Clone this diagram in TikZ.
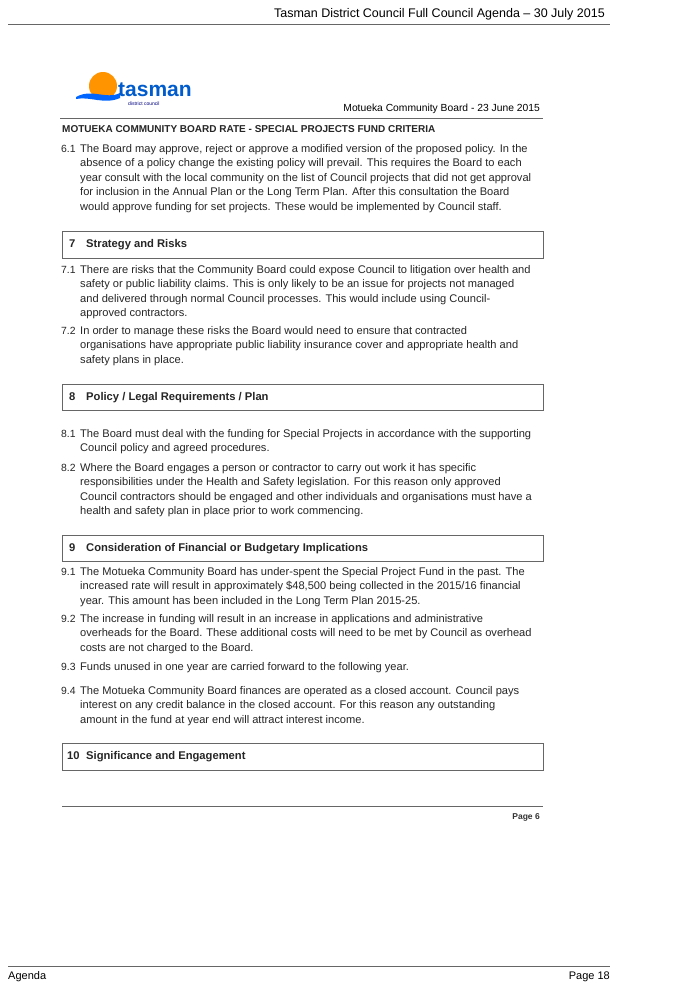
\documentclass[tikz,border=0pt]{standalone}
\usepackage{fontspec}
\setmainfont{Liberation Sans}
\begin{document}
\begin{tikzpicture}[x=1pt,y=-1pt,
  body/.style={anchor=base west,inner sep=0,font=\fontsize{11.1}{13}\selectfont,text=black!85},
  num/.style={anchor=base west,inner sep=0,font=\fontsize{10.4}{13}\selectfont,text=black!85},
  head/.style={anchor=base west,inner sep=0,font=\bfseries\fontsize{11.2}{13}\selectfont,text=black!85},
  box/.style={draw=black!60,line width=0.6pt},
  rule/.style={draw=black!60,line width=0.5pt}]
\useasboundingbox (0,0) rectangle (688,1004);
\fill[white] (0,0) rectangle (688,1004);
\node[anchor=base east,inner sep=0,font=\fontsize{12.5}{14}\selectfont] (hdr) at (605,17) {Tasman District Council Full Council Agenda -- 30 July 2015};
\draw[rule] (8,24) -- (610,24);
% logo
\fill[orange!85!yellow] (103,86) circle (14);
\fill[blue!60!cyan] (76,97) .. controls (92,88) and (106,100) .. (120,93) -- (120,98) .. controls (104,105) and (90,96) .. (76,99) -- cycle;
\node[anchor=base west,inner sep=0,font=\bfseries\fontsize{21}{24}\selectfont,text=blue!55!cyan!80!black] (logo) at (118,96) {tasman};
\node[anchor=base west,inner sep=0,font=\fontsize{5}{6}\selectfont,text=blue!50!black] (logo2) at (128,105) {district council};
\node[anchor=base east,inner sep=0,font=\fontsize{10.3}{12}\selectfont] (mcb) at (540,111) {Motueka Community Board - 23 June 2015};
\draw[rule] (60,118) -- (543,118);
\node[head,font=\bfseries\fontsize{10}{12}\selectfont] (title) at (62,132) {MOTUEKA COMMUNITY BOARD RATE - SPECIAL PROJECTS FUND CRITERIA};
% 6.1
\node[num] (n61) at (61,152) {6.1};
\node[body] (t61a) at (80,152) {The Board may approve, reject or approve a modified version of the proposed policy. In the};
\node[body] (t61b) at (80,166.5) {absence of a policy change the existing policy will prevail. This requires the Board to each};
\node[body] (t61c) at (80,181) {year consult with the local community on the list of Council projects that did not get approval};
\node[body] (t61d) at (80,195.5) {for inclusion in the Annual Plan or the Long Term Plan. After this consultation the Board};
\node[body] (t61e) at (80,210) {would approve funding for set projects. These would be implemented by Council staff.};
% 7
\draw[box] (62,231) rectangle (543,258);
\node[head] (h7n) at (69,247) {7};
\node[head] (h7) at (86,247) {Strategy and Risks};
\node[num] (n71) at (61,273) {7.1};
\node[body] (t71a) at (80,273) {There are risks that the Community Board could expose Council to litigation over health and};
\node[body] (t71b) at (80,287.5) {safety or public liability claims. This is only likely to be an issue for projects not managed};
\node[body] (t71c) at (80,302) {and delivered through normal Council processes. This would include using Council-};
\node[body] (t71d) at (80,316.5) {approved contractors.};
\node[num] (n72) at (61,334) {7.2};
\node[body] (t72a) at (80,334) {In order to manage these risks the Board would need to ensure that contracted};
\node[body] (t72b) at (80,348.5) {organisations have appropriate public liability insurance cover and appropriate health and};
\node[body] (t72c) at (80,363) {safety plans in place.};
% 8
\draw[box] (62,384) rectangle (543,410);
\node[head] (h8n) at (69,400) {8};
\node[head] (h8) at (86,400) {Policy / Legal Requirements / Plan};
\node[num] (n81) at (61,437) {8.1};
\node[body] (t81a) at (80,437) {The Board must deal with the funding for Special Projects in accordance with the supporting};
\node[body] (t81b) at (80,451.5) {Council policy and agreed procedures.};
\node[num] (n82) at (61,471) {8.2};
\node[body] (t82a) at (80,471) {Where the Board engages a person or contractor to carry out work it has specific};
\node[body] (t82b) at (80,485.5) {responsibilities under the Health and Safety legislation. For this reason only approved};
\node[body] (t82c) at (80,500) {Council contractors should be engaged and other individuals and organisations must have a};
\node[body] (t82d) at (80,514.5) {health and safety plan in place prior to work commencing.};
% 9
\draw[box] (62,535) rectangle (543,561);
\node[head] (h9n) at (69,551) {9};
\node[head] (h9) at (86,551) {Consideration of Financial or Budgetary Implications};
\node[num] (n91) at (61,575) {9.1};
\node[body] (t91a) at (80,575) {The Motueka Community Board has under-spent the Special Project Fund in the past. The};
\node[body] (t91b) at (80,589.5) {increased rate will result in approximately \$48,500 being collected in the 2015/16 financial};
\node[body] (t91c) at (80,604) {year. This amount has been included in the Long Term Plan 2015-25.};
\node[num] (n92) at (61,622) {9.2};
\node[body] (t92a) at (80,622) {The increase in funding will result in an increase in applications and administrative};
\node[body] (t92b) at (80,636.5) {overheads for the Board. These additional costs will need to be met by Council as overhead};
\node[body] (t92c) at (80,651) {costs are not charged to the Board.};
\node[num] (n93) at (61,670) {9.3};
\node[body] (t93) at (80,670) {Funds unused in one year are carried forward to the following year.};
\node[num] (n94) at (61,694) {9.4};
\node[body] (t94a) at (80,694) {The Motueka Community Board finances are operated as a closed account. Council pays};
\node[body] (t94b) at (80,708.5) {interest on any credit balance in the closed account. For this reason any outstanding};
\node[body] (t94c) at (80,723) {amount in the fund at year end will attract interest income.};
% 10
\draw[box] (62,743) rectangle (543,770);
\node[head] (h10n) at (67,759) {10};
\node[head] (h10) at (86,759) {Significance and Engagement};
\draw[rule] (62,806) -- (543,806);
\node[anchor=base east,inner sep=0,font=\bfseries\fontsize{8.5}{10}\selectfont,text=black!80] (p6) at (540,819) {Page 6};
\draw[rule] (8,966) -- (610,966);
\node[anchor=base west,inner sep=0,font=\fontsize{11}{13}\selectfont] (ag) at (8,979) {Agenda};
\node[anchor=base east,inner sep=0,font=\fontsize{11}{13}\selectfont] (p18) at (610,979) {Page 18};
\end{tikzpicture}
\end{document}
